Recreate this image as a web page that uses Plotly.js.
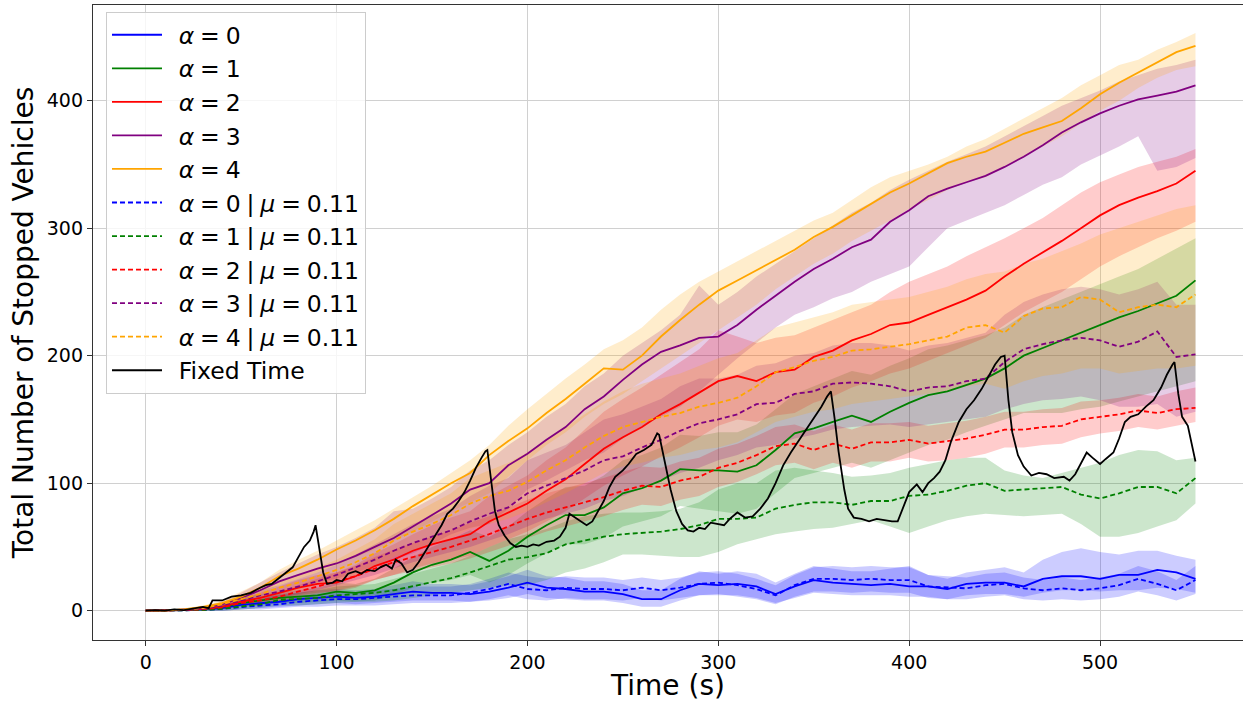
<!DOCTYPE html>
<html>
<head>
<meta charset="utf-8">
<script src="https://cdn.plot.ly/plotly-3.0.1.min.js"></script>
<style>html,body{margin:0;padding:0;background:#fff;}#chart{width:1243px;height:702px;}</style>
</head>
<body>
<div id="chart"></div>
<script>
// Time grid (s)
const timeGrid = [0,10,20,30,40,50,60,70,80,90,100,110,120,130,140,150,160,170,180,190,200,210,220,230,240,250,260,270,280,290,300,310,320,330,340,350,360,370,380,390,400,410,420,430,440,450,460,470,480,490,500,510,520,530,540,550];

// Mean curves
const alpha0 = [0,0,0.5,1,2,4.6,6,7,9,10, 11,10,11,13,15,14,14,13,15,18, 22,18,17,15,15,13,9,9,16,21, 20,21,19,13,19,24,22,21,20,21, 19,19,17,21,22,22,19,25,27,27, 25,28,28,32,30,25];
const alpha1 = [0,0,0.5,1,3,6,8,10,11,12, 15,14,16,22,30,36,40,46,39,47, 58,67,75,75,81,92,96,102,111,110, 110,109,114,126,139,143,148,153,148,156, 163,169,172,177,182,190,200,206,212,218, 224,230,235,241,247,259];
const alpha2 = [0,0,0.5,1.5,3,7,10,14,18,21, 22,27,35,40,47,52,56,60,70,77, 84,94,103,115,127,136,144,154,162,171, 180,184,180,187,189,199,204,212,217,224, 226,232,238,244,251,262,272,281,290,300, 310,318,324,329,335,345];
const alpha3 = [0,0,1,2,5,10,16,23,28,33, 37,43,50,57,66,75,84,95,100,114, 123,134,144,158,168,181,193,203,208,214, 215,224,236,247,258,268,276,285,291,305, 314,325,331,336,341,348,356,365,375,383, 390,396,401,404,407,412];
const alpha4 = [0,0,1,3,6,11,18,27,33,40, 48,55,63,72,82,91,100,108,122,133, 143,155,166,178,190,189,200,215,228,240, 251,259,267,275,283,293,301,310,319,328, 335,343,351,356,360,367,374,379,384,394, 405,414,422,430,438,443];
const alpha0Mu = [0,0,0,0.5,1.5,3,4,5,7,8, 9,9,10,11,12,12,12,14,17,21, 17,16,18,17,17,16,18,16,18,21, 22,20,17,12,20,25,25,24,25,24, 24,19,18,17.5,20,21,17.5,16,17.5,16, 17.5,20,25,21,16,24];
const alpha1Mu = [0,0,0,0.5,1.5,3,5,8.5,9,10, 12,13,14,16,19,22,25.5,30,35,40, 42,45,52,55,58,60,61,62,64,67, 72,72,73,80,83,85,85,83,86,86, 90,91,94,98,100,94,95,96,97,91, 88,92,97,97,92,104];
const alpha2Mu = [0,0,0.5,1,2.5,6,8,11,15,19, 23,27,33,38,42,46,50,55,60,66, 72,77,81,85,89,94,98,97,102,105, 112,116,122,129,131,126,131,127,132,132, 134,131,133,135,138,142,142,144,145,150, 152,154,157,155,158,159];
const alpha3Mu = [0,0,0.5,1.5,4,8,12,15,19,23, 28,34,40,47,53,58,63,70,76,81, 92,98,104,110,118,121,128,134,141,147, 150,154,162,163,170,172,178,179,178,176, 172,175,176,180,182,195,205,209,212,214, 212,207,211,219,199,201];
const alpha4Mu = [0,0,1,2,5,9,13,18,22,27, 32,38,45,55,62,68,75,84,90,94, 101,110,118,128,137,144,148,152,155,160, 163,167,176,187,191,196,199,204,205,207, 209,212,215,222,224,218,231,237,238,246, 244,234,238,240,238,248];

// Spread bands (lower / upper)
const alpha0Lo = [0,0,0,0,0,1,2,3,4,5, 6,5,6,7,8,8,8,7,8,10, 13,10,9,8,8,6,3,3,8,12, 12,12,10,6,10,14,13,12,12,12, 11,11,9,12,13,13,11,14,16,16, 15,16,16,18,17,14];
const alpha0Hi = [0,0,1,2,4,9,11,12,14,16, 17,16,17,20,23,21,21,20,23,27, 32,27,26,23,23,21,16,16,25,31, 29,31,29,22,29,35,33,31,31,33, 35,28,25,30,32,34,30,40,46,49, 46,44,47,47,43,40];
const alpha1Lo = [0,0,0,0,1,3,4,6,6,7, 8,7,8,12,18,22,24,28,22,28, 37,45,52,52,57,66,70,74,82,80, 78,76,80,92,104,108,112,116,112,118, 124,130,134,140,145,150,155,155,155,158, 160,164,168,172,176,180];
const alpha1Hi = [0,1,2,3,6,10,13,15,16,18, 22,21,25,33,42,50,56,63,58,66, 78,88,97,98,106,118,122,128,138,137, 140,140,146,158,170,176,182,188,185,192, 198,205,208,212,216,222,232,238,244,250, 256,262,268,276,284,292];
const alpha2Lo = [0,0,0,0.5,1,4,6,9,12,14, 15,18,24,28,33,37,40,43,50,56, 62,70,78,88,98,106,113,121,128,136, 145,150,148,153,155,163,168,175,180,186, 190,196,202,208,214,224,234,242,250,260, 270,278,285,292,298,305];
const alpha2Hi = [0,0,1,2.5,5,10,14,19,24,28, 30,36,45,52,60,67,73,78,90,98, 106,118,128,142,156,166,175,185,195,205, 220,215,210,214,216,222,228,234,240,250, 258,264,270,278,285,292,300,308,318,328, 336,342,348,352,356,362];
const alpha3Lo = [0,0,0.5,1,3,6,10,15,19,22, 25,30,35,40,45,52,60,65,68,80, 95,102,110,118,124,135,145,152,160,172, 185,198,210,222,232,238,245,250,258,264, 270,285,300,306,312,318,326,334,340,350, 357,364,372,345,348,355];
const alpha3Hi = [0,0,1.5,3,7,14,22,30,37,44, 50,57,65,78,80,88,97,110,118,130, 140,152,162,176,186,200,210,220,232,255, 240,250,262,272,282,292,302,312,320,330, 338,345,352,358,364,372,380,388,396,402, 408,415,420,425,428,432];
const alpha4Lo = [0,0,0.5,2,4,8,13,20,25,30, 36,42,48,55,62,70,78,85,92,105, 118,130,140,152,162,170,180,190,200,210, 220,230,240,252,262,272,280,290,298,306, 315,322,330,336,340,348,356,364,372,382, 392,400,410,418,424,427];
const alpha4Hi = [0,0,1.5,4,8,15,22,32,40,47, 55,63,71,80,89,98,108,118,130,145, 158,170,182,193,205,212,222,236,248,258, 266,274,282,290,298,306,312,322,332,340, 345,350,356,364,370,378,386,394,402,412, 420,428,432,440,446,453];
const alpha0MuLo = [0,0,0,0,0,1,1,2,3,3, 4,4,4,5,6,6,6,7,9,12, 9,8,10,9,9,8,10,8,10,12, 13,11,9,5,11,15,15,14,15,14, 14,10,9,9,11,12,9,8,9,8, 9,11,15,12,8,13];
const alpha0MuHi = [0,0,1,1,3,5,7,8,11,13, 14,14,16,17,19,19,19,21,25,30, 27,25,27,26,26,24,26,24,26,30, 31,29,25,20,28,34,35,34,35,34, 34,28,27,26,29,30,26,24,26,24, 26,29,35,31,24,35];
const alpha1MuLo = [0,0,0,0,0,1,2,4,4,5, 6,7,7,8,10,12,14,16,18,20, 20,24,30,33,38,44,44,43,42,42, 46,52,56,60,62,64,65,68,71,66, 61,66,71,74,76,75,74,75,76,68, 58,58,61,66,71,84];
const alpha1MuHi = [0,0,1,1,3,6,9,13,14,16, 19,20,21,25,29,33,37,43,50,56, 60,64,70,74,76,77,77,78,80,85, 95,100,100,110,112,110,108,105,106,108, 112,115,118,120,120,110,106,104,108,112, 116,122,126,125,118,120];
const alpha2MuLo = [0,0,0,0.5,1.5,4,5,7,10,13, 16,19,24,28,31,34,37,41,46,51, 57,62,66,70,74,79,83,82,87,90, 97,101,107,114,116,111,116,112,117,117, 120,117,118,120,123,128,128,130,131,136, 139,141,144,142,145,148];
const alpha2MuHi = [0,0,1,1.5,4,8,11,15,20,25, 30,35,42,48,53,58,63,69,74,81, 87,92,96,100,104,109,113,112,117,120, 127,131,137,144,146,141,146,142,147,147, 148,145,147,149,152,156,156,158,159,164, 165,167,170,168,172,175];
const alpha3MuLo = [0,0,0,1,2.5,5,8,10,13,16, 20,24,28,33,38,42,46,50,55,60, 66,72,76,80,86,90,96,102,108,112, 118,122,128,130,135,138,142,144,145,146, 144,146,148,150,152,158,162,165,166,168, 165,160,160,162,152,156];
const alpha3MuHi = [0,0,1,2,5.5,11,16,20,25,30, 36,44,52,60,68,74,80,90,98,104, 118,124,130,140,150,154,160,166,176,182, 182,185,192,194,200,202,208,210,210,208, 204,208,210,214,218,232,242,248,252,254, 252,248,252,258,240,240];
const alpha4MuLo = [0,0,0.5,1,3,6,9,13,16,20, 24,28,34,42,47,52,57,64,68,72, 78,85,92,100,108,113,116,120,122,126, 128,132,140,148,152,156,158,162,164,166, 168,170,172,176,178,174,180,184,186,190, 190,186,188,190,190,192];
const alpha4MuHi = [0,0,1.5,3,7,12,17,23,28,34, 40,48,56,68,76,84,92,104,110,116, 124,134,144,154,164,172,178,182,186,192, 198,202,212,222,226,230,234,240,242,244, 246,250,254,260,264,266,272,276,282,288, 295,300,305,310,315,318];

// Fixed-time controller
const fixedT = [0,5,10,15,20,25,30,33,35,40,45,50,55,60,63,66,70,74,77,80,83,86,88,89,91,93,95,98,100,103,106,110,113,116,120,123,126,129,131,134,137,140,143,146,149,152,155,158,161,164,167,170,173,176,178,179,181,183,185,188,191,194,197,200,203,206,210,214,217,220,222,225,228,231,234,237,240,243,246,250,253,257,261,265,268,269,272,275,278,281,284,287,290,293,296,300,303,306,310,314,318,322,326,330,334,338,342,346,350,354,357,359,361,363,366,368,371,375,379,383,387,391,394,397,400,404,407,410,413,416,419,422,426,430,434,438,442,445,448,450,452,454,457,460,464,468,472,476,481,484,487,490,493,496,500,503,507,510,513,516,520,524,528,532,535,538,539,541,543,546,548,550];
const fixedV = [0,0.5,0,1,0.5,2,3,2,8,8,11,12,14,18,20,21,26,31,34,42,50,55,62,67,50,30,21,22,24,23,29,31,29,32,31,34,36,33,40,37,30,32,38,45,53,60,67,76,80,86,93,102,112,120,125,126,100,78,67,59,53,50,51,50,52,51,54,55,58,65,76,73,70,67,70,78,86,97,105,110,115,123,126,130,139,138,115,95,78,68,63,62,65,64,69,68,67,72,77,73,74,80,88,100,114,124,133,142,150,160,168,172,150,125,95,80,73,72,70,72,71,70,70,82,93,99,93,100,104,109,118,133,148,158,165,174,185,193,199,200,165,140,122,113,106,108,107,104,105,102,107,116,124,120,115,119,124,135,148,152,154,160,165,175,185,193,195,170,152,145,130,117];

const SP = '\u2005';
const LEAD = '\u2002';
const seriesNames = ['0','1','2','3','4'].map(d => LEAD + '<i>α</i>' + SP + '=' + SP + d);
const muSuffix = SP + '|' + SP + '<i>μ</i>' + SP + '=' + SP + '0.11';
const fixedName = LEAD + 'Fixed Time';
const colors = ['blue','green','red','purple','orange'];
const fills = ['rgba(0,0,255,0.2)','rgba(0,128,0,0.2)','rgba(255,0,0,0.2)','rgba(128,0,128,0.2)','rgba(255,165,0,0.2)'];

const means = [alpha0,alpha1,alpha2,alpha3,alpha4];
const meansMu = [alpha0Mu,alpha1Mu,alpha2Mu,alpha3Mu,alpha4Mu];
const lows = [alpha0Lo,alpha1Lo,alpha2Lo,alpha3Lo,alpha4Lo];
const highs = [alpha0Hi,alpha1Hi,alpha2Hi,alpha3Hi,alpha4Hi];
const lowsMu = [alpha0MuLo,alpha1MuLo,alpha2MuLo,alpha3MuLo,alpha4MuLo];
const highsMu = [alpha0MuHi,alpha1MuHi,alpha2MuHi,alpha3MuHi,alpha4MuHi];

const traces = [];
const revT = timeGrid.slice().reverse();
function band(lo, hi, color) {
  return {x: timeGrid.concat(revT), y: lo.concat(hi.slice().reverse()), type:'scatter', mode:'lines',
    fill:'toself', fillcolor: color, line:{width:0, color:color}, hoverinfo:'skip', showlegend:false};
}
for (let i=0;i<5;i++) traces.push(band(lows[i], highs[i], fills[i]));
for (let i=0;i<5;i++) traces.push(band(lowsMu[i], highsMu[i], fills[i]));
for (let i=0;i<5;i++) traces.push({x: timeGrid, y: means[i], type:'scatter', mode:'lines', name: seriesNames[i], line:{color: colors[i], width:1.8}});
for (let i=0;i<5;i++) traces.push({x: timeGrid, y: meansMu[i], type:'scatter', mode:'lines', name: seriesNames[i]+muSuffix, line:{color: colors[i], width:1.8, dash:'5px,3px'}});
traces.push({x: fixedT, y: fixedV, type:'scatter', mode:'lines', name: fixedName, line:{color:'black', width:1.8}});

const font = 'DejaVu Sans, sans-serif';
const layout = {
  width:1243, height:702,
  margin:{l:93, r:0, t:5, b:62},
  paper_bgcolor:'white', plot_bgcolor:'white',
  font:{family:font, color:'black'},
  showlegend:true,
  xaxis:{range:[-27.6,574.9], tickvals:[0,100,200,300,400,500], ticktext:['0','100','200','300','400','500'],
    showgrid:true, gridcolor:'#d0d0d0', gridwidth:1, zeroline:false,
    showline:true, linecolor:'#333', linewidth:1.2, mirror:true,
    ticks:'outside', ticklen:5, tickcolor:'#333', tickfont:{size:19, family:font},
    title:{text:'Time (s)', font:{size:28, family:font}, standoff:10}, automargin:false},
  yaxis:{range:[-23,475], tickvals:[0,100,200,300,400], ticktext:['0','100','200','300','400'],
    showgrid:true, gridcolor:'#d0d0d0', gridwidth:1, zeroline:false,
    showline:true, linecolor:'#333', linewidth:1.2, mirror:false,
    ticks:'outside', ticklen:5, tickcolor:'#333', tickfont:{size:19, family:font},
    title:{text:'Total Number of Stopped Vehicles', font:{size:28, family:font}, standoff:5}, automargin:false},
  legend:{x:0.0113, y:0.989, xanchor:'left', yanchor:'top', bgcolor:'rgba(255,255,255,0.8)',
    bordercolor:'#cccccc', borderwidth:1, font:{size:23.5, family:font}, itemwidth:50, tracegroupgap:0}
};
Plotly.newPlot('chart', traces, layout, {displayModeBar:false, staticPlot:true});
</script>
</body>
</html>
